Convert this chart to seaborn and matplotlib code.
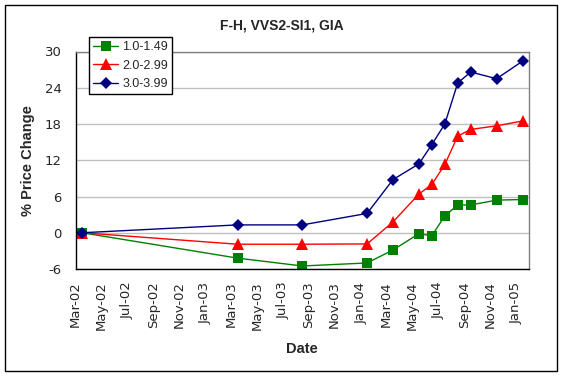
import matplotlib
matplotlib.use("Agg")
import matplotlib.pyplot as plt
import matplotlib.patches as mpatches
import pandas as pd
import seaborn as sns

# ── data ──
dates = ["2002-03", "2003-03", "2003-08", "2004-01", "2004-03", "2004-05",
         "2004-06", "2004-07", "2004-08", "2004-09", "2004-11", "2005-01"]
size_1_0 = [0.0, -4.2, -5.5, -5.0, -2.85, -0.15, -0.5, 2.8, 4.6, 4.6, 5.4, 5.5]
size_2_0 = [0.0, -1.9, -1.9, -1.85, 1.8, 6.4, 8.0, 11.3, 16.0, 17.1, 17.7, 18.5]
size_3_0 = [0.0, 1.3, 1.3, 3.2, 8.8, 11.4, 14.6, 18.0, 24.8, 26.6, 25.5, 28.4]
series_names = ["1.0-1.49", "2.0-2.99", "3.0-3.99"]
tick_labels = ["Mar-02", "May-02", "Jul-02", "Sep-02", "Nov-02", "Jan-03",
               "Mar-03", "May-03", "Jul-03", "Sep-03", "Nov-03", "Jan-04",
               "Mar-04", "May-04", "Jul-04", "Sep-04", "Nov-04", "Jan-05"]

# month index from Mar-02, points sit in the middle of their month
start = pd.Period("2002-03", freq="M")
month_pos = [(pd.Period(d, freq="M") - start).n + 0.5 for d in dates]

df = pd.concat([
    pd.DataFrame({"x": month_pos, "y": vals, "series": name})
    for name, vals in zip(series_names, [size_1_0, size_2_0, size_3_0])
])

sns.set_style("white")
plt.rcParams["font.family"] = ["Liberation Sans", "DejaVu Sans"]
plt.rcParams["axes.unicode_minus"] = False

W, H = 561, 376
fig = plt.figure(figsize=(W / 100, H / 100), dpi=100)
ax_l, ax_r, ax_t, ax_b = 75.7, 529, 51.5, 269
ax = fig.add_axes([ax_l / W, 1 - ax_b / H, (ax_r - ax_l) / W, (ax_b - ax_t) / H])

palette = {"1.0-1.49": "#008000", "2.0-2.99": "#FF0000", "3.0-3.99": "#000080"}
markers = {"1.0-1.49": "s", "2.0-2.99": "^", "3.0-3.99": "D"}
sizes = {"1.0-1.49": 7, "2.0-2.99": 8, "3.0-3.99": 6.5}

sns.lineplot(data=df, x="x", y="y", hue="series", style="series",
             palette=palette, markers=markers, dashes=False,
             linewidth=1, markeredgewidth=0, ax=ax, legend=False)
for line, name in zip(ax.lines, series_names):
    line.set_markersize(sizes[name])

ax.set_xlim(0, 35)
ax.set_ylim(-6, 30)
ax.set_yticks(range(-6, 31, 6))
ax.set_xticks(range(0, 35, 2))
ax.set_xticklabels(tick_labels, rotation=90)
ax.tick_params(axis="both", direction="out", length=5, width=1, color="black",
               labelsize=9.5)
ax.tick_params(axis="y", pad=5)
ax.tick_params(axis="x", pad=4)
for lab in ax.get_xticklabels() + ax.get_yticklabels():
    lab.set_family("DejaVu Sans")
ax.yaxis.grid(True, color="#C0C0C0", linewidth=1)
ax.set_axisbelow(True)

for side in ["left", "bottom"]:
    ax.spines[side].set_color("black")
    ax.spines[side].set_linewidth(1)
for side in ["top", "right"]:
    ax.spines[side].set_color("#808080")
    ax.spines[side].set_linewidth(1)

ax.set_xlabel("Date", fontsize=10.5, fontweight="bold")
ax.xaxis.set_label_coords((302 - ax_l) / (ax_r - ax_l), -(342 - ax_b) / (ax_b - ax_t))
ax.set_ylabel("% Price Change", fontsize=10.5, fontweight="bold")
ax.yaxis.set_label_coords(-(ax_l - 35) / (ax_r - ax_l), 0.5)
fig.text(282 / W, 1 - 25 / H, "F-H, VVS2-SI1, GIA", ha="center", va="center",
         fontsize=10, fontweight="bold")

handles = [plt.Line2D([], [], color=palette[n], marker=markers[n], markersize=sizes[n],
                      markeredgewidth=0, linewidth=1) for n in series_names]
leg = fig.legend(handles, series_names, loc="upper left",
                 bbox_to_anchor=(89 / W, 1 - 37 / H), bbox_transform=fig.transFigure,
                 fancybox=False, framealpha=1, edgecolor="black", fontsize=9,
                 handlelength=2.0, borderpad=0.35, labelspacing=0.5, handletextpad=0.3,
                 borderaxespad=0)
leg.get_frame().set_linewidth(1)

# chart area border
fig.patches.append(mpatches.Rectangle((5 / W, 5 / H), 552 / W, 366 / H,
                                      transform=fig.transFigure, fill=False,
                                      edgecolor="black", linewidth=1))

fig.savefig("out.png", dpi=100)
